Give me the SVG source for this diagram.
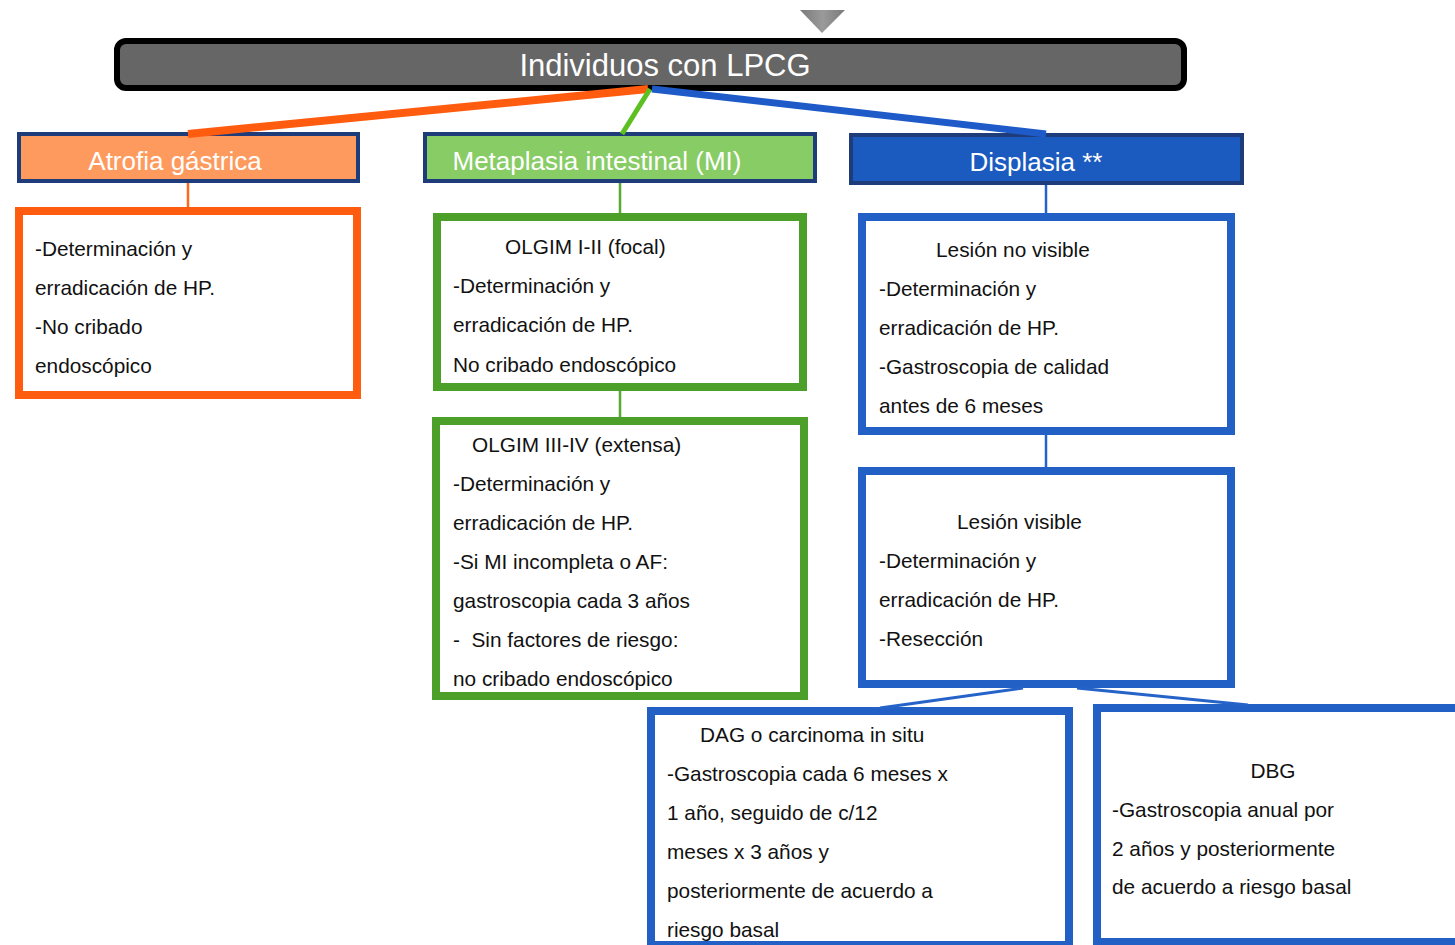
<svg xmlns="http://www.w3.org/2000/svg" width="1455" height="945" viewBox="0 0 1455 945">
<defs>
<linearGradient id="tri" x1="0" y1="0" x2="1" y2="0">
<stop offset="0" stop-color="#7a7a7a"/><stop offset="0.5" stop-color="#9a9a9a"/><stop offset="1" stop-color="#7a7a7a"/>
</linearGradient>
<style>
text{font-family:"Liberation Sans",Arial,Helvetica,sans-serif;}
.body{font-size:20.8px;fill:#111;}
.head{font-size:26px;fill:#fff;text-anchor:middle;}
.hbox{stroke:#1f3c7a;stroke-width:4;}
.obox{fill:#fff;stroke:#ff5c10;stroke-width:8;}
.gbox{fill:#fff;stroke:#4ca02a;stroke-width:8;}
.bbox{fill:#fff;stroke:#2260c6;stroke-width:8;}
</style>
</defs>
<rect width="1455" height="945" fill="#fff"/>

<polygon points="800,10 845,10 822,33" fill="url(#tri)"/>

<g id="root">
<rect x="117" y="41" width="1067" height="47" rx="9" fill="#666" stroke="#000" stroke-width="6"/>
<text x="665" y="76" font-size="31" fill="#fff" text-anchor="middle">Individuos con LPCG</text>
</g>

<g id="atrofia">
<rect class="hbox" x="19" y="134" width="339" height="47" fill="#ff9a5e"/>
<text class="head" x="175" y="170">Atrofia gástrica</text>
</g>
<g id="metaplasia">
<rect class="hbox" x="425" y="134" width="390" height="47" fill="#88cc66"/>
<text class="head" x="597" y="170">Metaplasia intestinal (MI)</text>
</g>
<g id="displasia">
<rect class="hbox" x="851" y="135" width="391" height="48" fill="#1b5bbf" stroke="#1a3f8a"/>
<text class="head" x="1036" y="171">Displasia **</text>
</g>

<g id="atrofia-detail">
<rect class="obox" x="19" y="211" width="338" height="184"/>
<text class="body" x="35" y="256">-Determinación y</text>
<text class="body" x="35" y="295">erradicación de HP.</text>
<text class="body" x="35" y="334">-No cribado</text>
<text class="body" x="35" y="373">endoscópico</text>
</g>

<g id="olgim-focal">
<rect class="gbox" x="437" y="217" width="366" height="170"/>
<text class="body" x="505" y="254">OLGIM I-II (focal)</text>
<text class="body" x="453" y="293">-Determinación y</text>
<text class="body" x="453" y="332">erradicación de HP.</text>
<text class="body" x="453" y="372">No cribado endoscópico</text>
</g>

<g id="olgim-extensa">
<rect class="gbox" x="436" y="421" width="368" height="275"/>
<text class="body" x="472" y="452">OLGIM III-IV (extensa)</text>
<text class="body" x="453" y="491">-Determinación y</text>
<text class="body" x="453" y="530">erradicación de HP.</text>
<text class="body" x="453" y="569">-Si MI incompleta o AF:</text>
<text class="body" x="453" y="608">gastroscopia cada 3 años</text>
<text class="body" x="453" y="647" xml:space="preserve">-  Sin factores de riesgo:</text>
<text class="body" x="453" y="686">no cribado endoscópico</text>
</g>

<g id="lesion-no-visible">
<rect class="bbox" x="862" y="217" width="369" height="214"/>
<text class="body" x="936" y="257">Lesión no visible</text>
<text class="body" x="879" y="296">-Determinación y</text>
<text class="body" x="879" y="335">erradicación de HP.</text>
<text class="body" x="879" y="374">-Gastroscopia de calidad</text>
<text class="body" x="879" y="413">antes de 6 meses</text>
</g>

<g id="lesion-visible">
<rect class="bbox" x="862" y="471" width="369" height="213"/>
<text class="body" x="957" y="529">Lesión visible</text>
<text class="body" x="879" y="568">-Determinación y</text>
<text class="body" x="879" y="607">erradicación de HP.</text>
<text class="body" x="879" y="646">-Resección</text>
</g>

<g id="dag">
<rect class="bbox" x="651" y="711" width="418" height="234"/>
<text class="body" x="700" y="742">DAG o carcinoma in situ</text>
<text class="body" x="667" y="781">-Gastroscopia cada 6 meses x</text>
<text class="body" x="667" y="820">1 año, seguido de c/12</text>
<text class="body" x="667" y="859">meses x 3 años y</text>
<text class="body" x="667" y="898">posteriormente de acuerdo a</text>
<text class="body" x="667" y="937">riesgo basal</text>
</g>

<g id="dbg">
<rect class="bbox" x="1097" y="708" width="420" height="234"/>
<text class="body" x="1273" y="778" text-anchor="middle">DBG</text>
<text class="body" x="1112" y="817">-Gastroscopia anual por</text>
<text class="body" x="1112" y="856">2 años y posteriormente</text>
<text class="body" x="1112" y="894">de acuerdo a riesgo basal</text>
</g>

<g id="connectors" fill="none">
<line x1="648" y1="89" x2="188" y2="134" stroke="#ff5c10" stroke-width="8"/>
<line x1="650" y1="89" x2="622" y2="134" stroke="#5cc021" stroke-width="5"/>
<line x1="652" y1="89" x2="1046" y2="134" stroke="#1f5bc8" stroke-width="7"/>
<line x1="188" y1="183" x2="188" y2="207" stroke="#ff6a1a" stroke-width="2.5"/>
<line x1="620" y1="183" x2="620" y2="213" stroke="#55aa30" stroke-width="2.5"/>
<line x1="620" y1="391" x2="620" y2="417" stroke="#55aa30" stroke-width="2.5"/>
<line x1="1046" y1="185" x2="1046" y2="213" stroke="#2563c9" stroke-width="2.5"/>
<line x1="1046" y1="435" x2="1046" y2="467" stroke="#2563c9" stroke-width="2.5"/>
<line x1="1023" y1="688" x2="880" y2="708" stroke="#2563c9" stroke-width="3"/>
<line x1="1077" y1="688" x2="1248" y2="705" stroke="#2563c9" stroke-width="3"/>
</g>
</svg>
